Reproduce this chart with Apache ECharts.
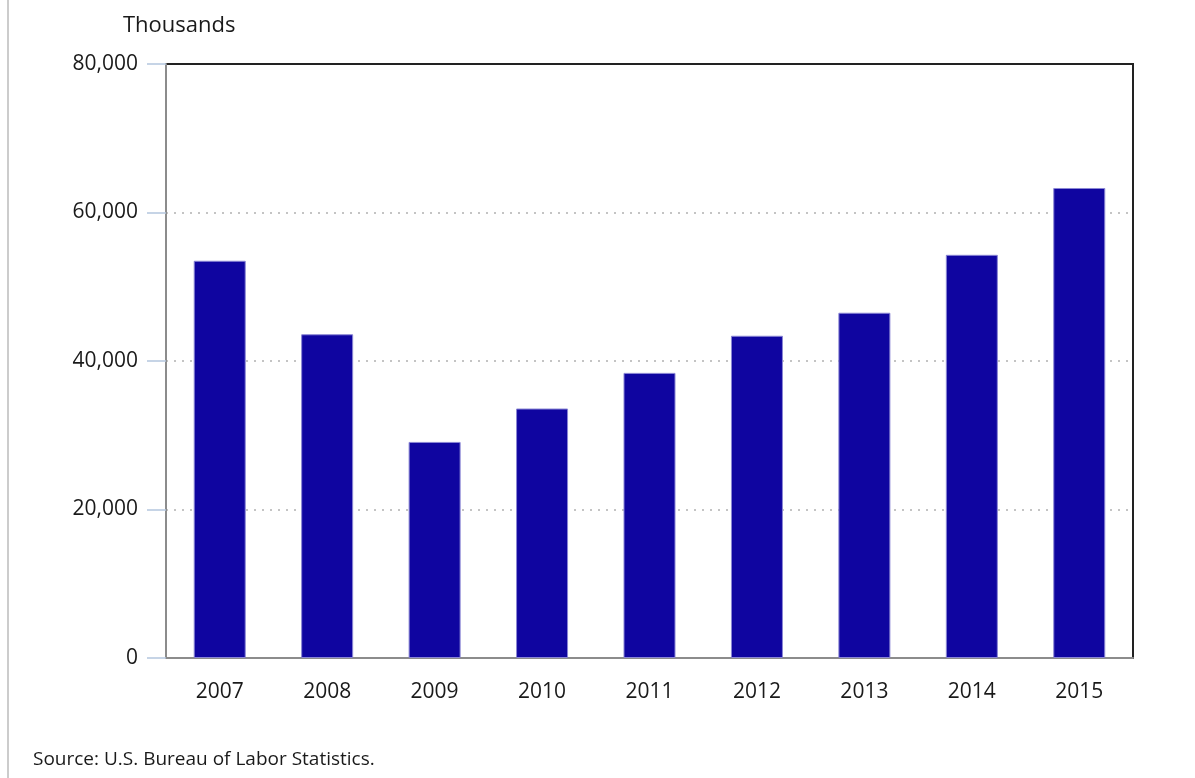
<!DOCTYPE html>
<html style="height: 100%">

<head>
    <meta charset="utf-8">
</head>

<body style="height: 100%; margin: 0">
    <div id="container" style="width: 1195px; height: 778px"></div>
    <script src="https://cdn.jsdelivr.net/npm/echarts@6/dist/echarts.min.js"></script>
    <script type="text/javascript">
        var years = ['2007', '2008', '2009', '2010', '2011', '2012', '2013', '2014', '2015'];
        var values = [53500, 43600, 29100, 33600, 38400, 43400, 46500, 54300, 63300];
        var yTicks = [0, 20000, 40000, 60000, 80000];

        var dom = document.getElementById("container");
        var myChart = echarts.init(dom);
        var font = "'Open Sans', 'Noto Sans', sans-serif";

        var option = {
            animation: false,
            backgroundColor: '#fff',
            textStyle: { fontFamily: font },
            title: [{
                text: 'Thousands',
                left: 118,
                top: 10,
                textStyle: { fontFamily: font, fontSize: 22, fontWeight: 'normal', color: '#1a1a1a' }
            }, {
                text: 'Source: U.S. Bureau of Labor Statistics.',
                left: 28,
                top: 745,
                textStyle: { fontFamily: font, fontSize: 19, fontWeight: 'normal', color: '#1a1a1a' }
            }],
            graphic: [{
                type: 'rect',
                shape: { x: 7, y: 0, width: 2, height: 778 },
                style: { fill: '#cccccc' }
            }],
            grid: {
                left: 166,
                right: 62,
                top: 64,
                bottom: 120,
                show: true,
                borderColor: '#222',
                borderWidth: 2
            },
            xAxis: {
                type: 'category',
                data: years,
                axisLine: { lineStyle: { color: '#8c8c8c', width: 2 } },
                axisTick: { alignWithLabel: true, length: 19, lineStyle: { color: '#b4c6de', width: 1.5 } },
                axisLabel: { fontFamily: font, fontSize: 21, color: '#1a1a1a', margin: 24 }
            },
            yAxis: {
                type: 'value',
                min: yTicks[0],
                max: yTicks[yTicks.length - 1],
                interval: 20000,
                axisLine: { show: true, lineStyle: { color: '#8c8c8c', width: 2 } },
                axisTick: { show: true, length: 19, lineStyle: { color: '#b4c6de', width: 1.5 } },
                axisLabel: {
                    fontFamily: font, fontSize: 21, color: '#1a1a1a', margin: 28,
                    formatter: function (v) { return v.toLocaleString('en-US'); }
                },
                splitLine: {
                    showMinLine: false,
                    showMaxLine: false,
                    lineStyle: { color: '#c4c4c4', type: [2, 6], width: 2 }
                }
            },
            series: [{
                type: 'bar',
                data: values,
                barWidth: 52,
                itemStyle: { color: '#0f05a0', borderColor: '#8a86d4', borderWidth: 1 }
            }]
        };
        myChart.setOption(option, true);
    </script>
</body>

</html>
